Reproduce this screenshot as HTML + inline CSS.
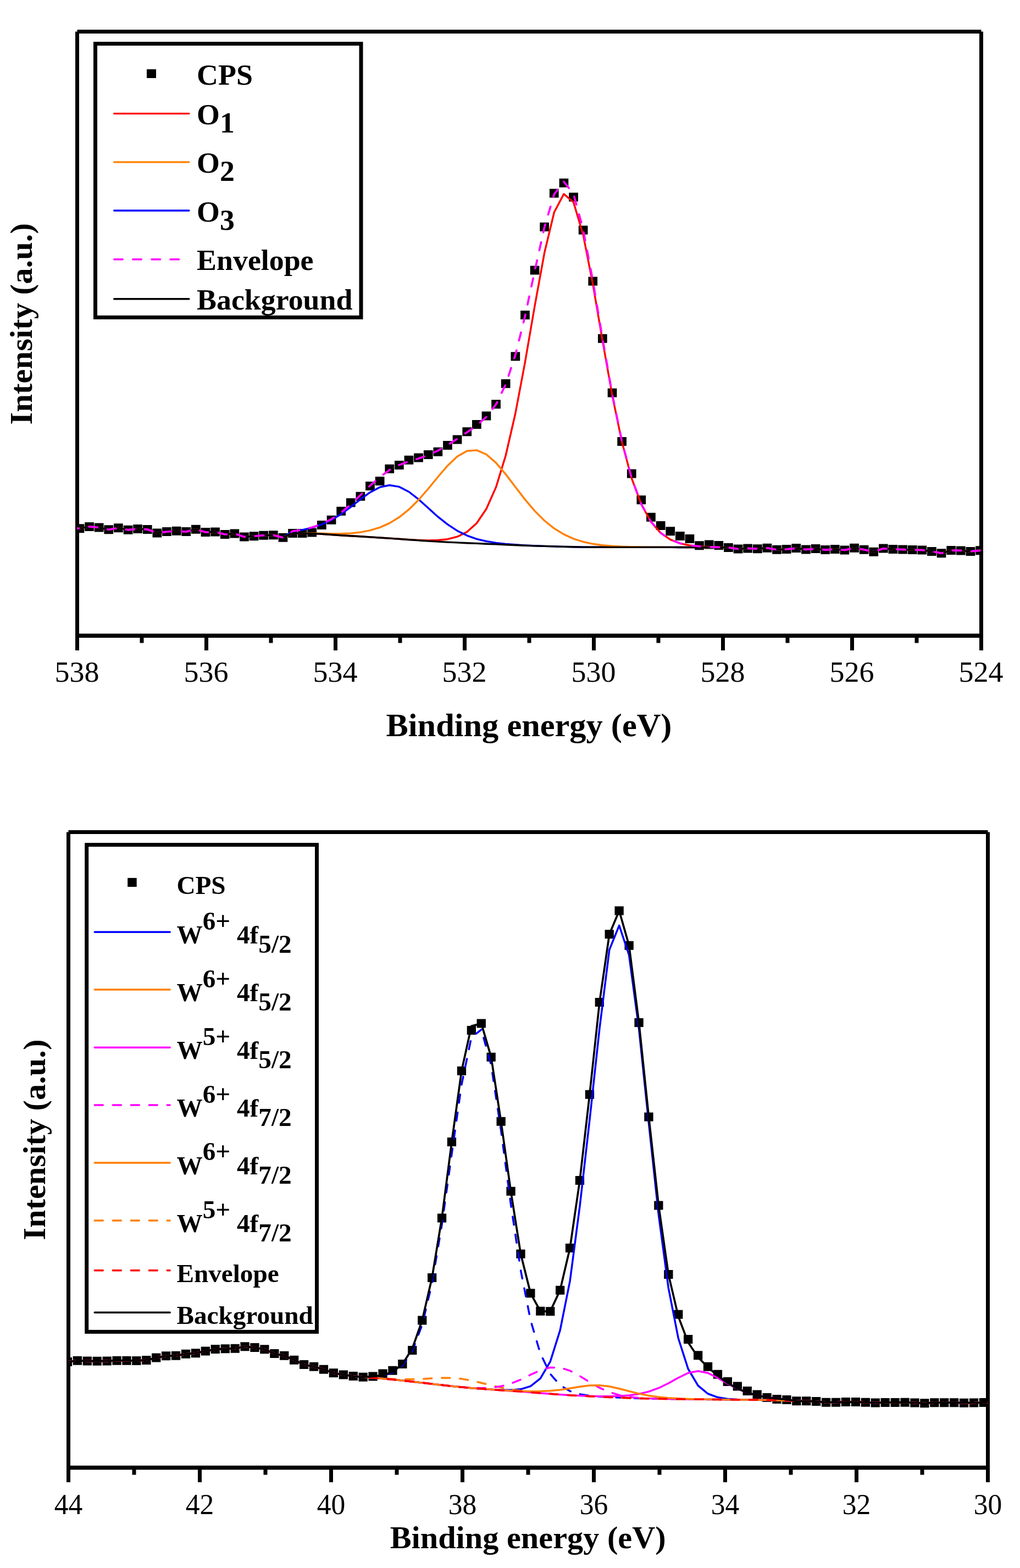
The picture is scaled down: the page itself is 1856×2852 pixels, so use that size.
<!DOCTYPE html>
<html lang="en"><head><meta charset="utf-8"><title>XPS spectra</title>
<style>
html,body{margin:0;padding:0;background:#fff}
svg{display:block;font-family:"Liberation Serif",serif;fill:#000}
</style></head><body>
<svg width="1856" height="2852" viewBox="0 0 1856 2852">
<rect width="1856" height="2852" fill="#fff"/>
<g stroke="#000" fill="none" stroke-width="7">
<path d="M140.5 57.5H1785.5M140.5 57.5V1156M1785.5 57.5V1156"/>
<path d="M137 1156.2H1789" stroke-width="7.5"/>
<path d="M140.5 1156.2V1183M258 1156.2V1169.5M375.5 1156.2V1183M493 1156.2V1169.5M610.5 1156.2V1183M728 1156.2V1169.5M845.5 1156.2V1183M963 1156.2V1169.5M1080.5 1156.2V1183M1198 1156.2V1169.5M1315.5 1156.2V1183M1433 1156.2V1169.5M1550.5 1156.2V1183M1668 1156.2V1169.5M1785.5 1156.2V1183" stroke-width="7"/>
</g>
<text transform="translate(140 1240.3) scale(1.015 1)" font-size="53.2" font-weight="normal" text-anchor="middle">538</text>
<text transform="translate(375 1240.3) scale(1.015 1)" font-size="53.2" font-weight="normal" text-anchor="middle">536</text>
<text transform="translate(610 1240.3) scale(1.015 1)" font-size="53.2" font-weight="normal" text-anchor="middle">534</text>
<text transform="translate(845 1240.3) scale(1.015 1)" font-size="53.2" font-weight="normal" text-anchor="middle">532</text>
<text transform="translate(1080 1240.3) scale(1.015 1)" font-size="53.2" font-weight="normal" text-anchor="middle">530</text>
<text transform="translate(1315 1240.3) scale(1.015 1)" font-size="53.2" font-weight="normal" text-anchor="middle">528</text>
<text transform="translate(1550 1240.3) scale(1.015 1)" font-size="53.2" font-weight="normal" text-anchor="middle">526</text>
<text transform="translate(1785 1240.3) scale(1.015 1)" font-size="53.2" font-weight="normal" text-anchor="middle">524</text>
<clipPath id="c1"><rect x="140" y="57.5" width="1645.5" height="1098.5"/></clipPath>
<g clip-path="url(#c1)">
<path d="M136.6 953.2h16.7v16h-16.7zM154.2 949.9h16.7v16h-16.7zM171.8 951.5h16.7v16h-16.7zM189.4 955.3h16.7v16h-16.7zM207 952.2h16.7v16h-16.7zM224.7 955.8h16.7v16h-16.7zM242.3 953.9h16.7v16h-16.7zM259.9 954.9h16.7v16h-16.7zM277.5 961.5h16.7v16h-16.7zM295.1 959.1h16.7v16h-16.7zM312.8 957.8h16.7v16h-16.7zM330.4 959.1h16.7v16h-16.7zM348 954.7h16.7v16h-16.7zM365.6 959.9h16.7v16h-16.7zM383.2 959.5h16.7v16h-16.7zM400.9 964h16.7v16h-16.7zM418.5 962.6h16.7v16h-16.7zM436.1 968.5h16.7v16h-16.7zM453.7 967.2h16.7v16h-16.7zM471.3 965.7h16.7v16h-16.7zM489 965.3h16.7v16h-16.7zM506.6 969.8h16.7v16h-16.7zM524.2 962h16.7v16h-16.7zM541.8 962h16.7v16h-16.7zM559.4 960.5h16.7v16h-16.7zM577 947.1h16.7v16h-16.7zM594.7 937.8h16.7v16h-16.7zM612.3 921.8h16.7v16h-16.7zM629.9 906.3h16.7v16h-16.7zM647.5 894.7h16.7v16h-16.7zM665.1 876.1h16.7v16h-16.7zM682.8 867h16.7v16h-16.7zM700.4 844.8h16.7v16h-16.7zM718 838.1h16.7v16h-16.7zM735.6 828.8h16.7v16h-16.7zM753.2 824.4h16.7v16h-16.7zM770.9 819h16.7v16h-16.7zM788.5 813.8h16.7v16h-16.7zM806.1 802h16.7v16h-16.7zM823.7 791.4h16.7v16h-16.7zM841.4 777.2h16.7v16h-16.7zM859 764.1h16.7v16h-16.7zM876.6 748.6h16.7v16h-16.7zM894.2 727.2h16.7v16h-16.7zM911.8 689.8h16.7v16h-16.7zM929.5 640.2h16.7v16h-16.7zM947.1 565h16.7v16h-16.7zM964.7 483.6h16.7v16h-16.7zM982.3 404.8h16.7v16h-16.7zM999.9 343.6h16.7v16h-16.7zM1017.6 324.8h16.7v16h-16.7zM1035.2 350.4h16.7v16h-16.7zM1052.8 410.5h16.7v16h-16.7zM1070.4 503.5h16.7v16h-16.7zM1088 607.8h16.7v16h-16.7zM1105.7 706.6h16.7v16h-16.7zM1123.3 795.1h16.7v16h-16.7zM1140.9 853.5h16.7v16h-16.7zM1158.5 901.3h16.7v16h-16.7zM1176.1 932.8h16.7v16h-16.7zM1193.8 947.9h16.7v16h-16.7zM1211.4 958.2h16.7v16h-16.7zM1229 967h16.7v16h-16.7zM1246.6 972.1h16.7v16h-16.7zM1264.2 984.3h16.7v16h-16.7zM1281.9 982.6h16.7v16h-16.7zM1299.5 983.9h16.7v16h-16.7zM1317.1 987.9h16.7v16h-16.7zM1334.7 990.6h16.7v16h-16.7zM1352.3 989.4h16.7v16h-16.7zM1370 990.2h16.7v16h-16.7zM1387.6 988.7h16.7v16h-16.7zM1405.2 991.8h16.7v16h-16.7zM1422.8 991h16.7v16h-16.7zM1440.4 989.1h16.7v16h-16.7zM1458.1 991.5h16.7v16h-16.7zM1475.7 990.1h16.7v16h-16.7zM1493.3 992.1h16.7v16h-16.7zM1510.9 990.9h16.7v16h-16.7zM1528.5 992.5h16.7v16h-16.7zM1546.2 988.7h16.7v16h-16.7zM1563.8 991.7h16.7v16h-16.7zM1581.4 995.7h16.7v16h-16.7zM1599 989.6h16.7v16h-16.7zM1616.6 991h16.7v16h-16.7zM1634.3 991.5h16.7v16h-16.7zM1651.9 992.1h16.7v16h-16.7zM1669.5 992.5h16.7v16h-16.7zM1687.1 994.9h16.7v16h-16.7zM1704.7 998.3h16.7v16h-16.7zM1722.4 993.1h16.7v16h-16.7zM1740 993.4h16.7v16h-16.7zM1757.6 994.9h16.7v16h-16.7zM1775.2 993.2h16.7v16h-16.7z" fill="#000"/>
<polyline points="127.3,961.2 144.9,961.2 162.5,957.9 180.1,959.5 197.8,963.3 215.4,960.2 233,963.8 250.6,961.9 268.2,962.9 285.9,969.5 303.5,967.1 321.1,965.8 338.7,967.1 356.3,962.7 374,967.9 391.6,967.5 409.2,972 426.8,970.6 444.4,976.5 462.1,975.2 479.7,973.7 497.3,973.3 514.9,977.8 532.5,969.7 550.2,970 567.8,970.4 585.4,971.3 603,972.5 620.6,973.7 638.3,974.8 655.9,975.8 673.5,976.9 691.1,978 708.7,979.1 726.4,980.3 744,981.4 761.6,982.4 779.2,982.9 796.8,982.5 814.5,980.7 832.1,976.2 849.7,967.4 867.3,951.7 884.9,925.8 902.6,885.9 920.2,828.5 937.8,752 955.4,658.7 973,556.5 990.7,459.7 1008.3,386.3 1025.9,352.9 1043.5,367.7 1061.1,427 1078.8,517 1096.4,619.7 1114,718.8 1131.6,803.6 1149.2,869.6 1166.9,917.2 1184.5,949.2 1202.1,969.4 1219.7,981.4 1237.3,988.3 1255,992 1272.6,993.9 1290.2,994.8 1307.8,995.3 1325.4,995.9 1343.1,998.6 1360.7,997.4 1378.3,998.2 1395.9,996.7 1413.5,999.8 1431.2,999 1448.8,997.1 1466.4,999.5 1484,998.1 1501.6,1000.1 1519.3,998.9 1536.9,1000.5 1554.5,996.7 1572.1,999.7 1589.7,1003.7 1607.4,997.6 1625,999 1642.6,999.5 1660.2,1000.1 1677.8,1000.5 1695.5,1002.9 1713.1,1006.3 1730.7,1001.1 1748.3,1001.4 1765.9,1002.9 1783.6,1001.2 1801.2,1001.2" fill="none" stroke="#ff0000" stroke-width="3.4" stroke-linejoin="round" stroke-linecap="round"/>
<polyline points="127.3,961.2 144.9,961.2 162.5,957.9 180.1,959.5 197.8,963.3 215.4,960.2 233,963.8 250.6,961.9 268.2,962.9 285.9,969.5 303.5,967.1 321.1,965.8 338.7,967.1 356.3,962.7 374,967.9 391.6,967.5 409.2,972 426.8,970.6 444.4,976.5 462.1,975.2 479.7,973.7 497.3,973.3 514.9,977.8 532.5,966.2 550.2,963.8 567.8,959.7 585.4,954 603,945.9 620.6,935.2 638.3,922.1 655.9,908.2 673.5,895.4 691.1,886.2 708.7,882.5 726.4,885.4 744,894.5 761.6,908.2 779.2,924.1 796.8,939.9 814.5,953.9 832.1,965.4 849.7,974.1 867.3,980.3 884.9,984.5 902.6,987.4 920.2,989.4 937.8,990.8 955.4,991.9 973,992.7 990.7,993.4 1008.3,993.9 1025.9,994.4 1043.5,994.8 1061.1,995.1 1078.8,995.3 1096.4,995.3 1114,995.4 1131.6,995.4 1149.2,995.4 1166.9,995.4 1184.5,995.4 1202.1,995.4 1219.7,995.4 1237.3,995.5 1255,995.5 1272.6,995.5 1290.2,995.5 1307.8,995.6 1325.4,995.9 1343.1,998.6 1360.7,997.4 1378.3,998.2 1395.9,996.7 1413.5,999.8 1431.2,999 1448.8,997.1 1466.4,999.5 1484,998.1 1501.6,1000.1 1519.3,998.9 1536.9,1000.5 1554.5,996.7 1572.1,999.7 1589.7,1003.7 1607.4,997.6 1625,999 1642.6,999.5 1660.2,1000.1 1677.8,1000.5 1695.5,1002.9 1713.1,1006.3 1730.7,1001.1 1748.3,1001.4 1765.9,1002.9 1783.6,1001.2 1801.2,1001.2" fill="none" stroke="#0000ff" stroke-width="3.4" stroke-linejoin="round" stroke-linecap="round"/>
<polyline points="127.3,961.2 144.9,961.2 162.5,957.9 180.1,959.5 197.8,963.3 215.4,960.2 233,963.8 250.6,961.9 268.2,962.9 285.9,969.5 303.5,967.1 321.1,965.8 338.7,967.1 356.3,962.7 374,967.9 391.6,967.5 409.2,972 426.8,970.6 444.4,976.5 462.1,975.2 479.7,973.7 497.3,973.3 514.9,977.8 532.5,969.6 550.2,969.7 567.8,969.9 585.4,970.3 603,970.8 620.6,970.8 638.3,970 655.9,968.1 673.5,964.7 691.1,959.4 708.7,951.6 726.4,940.8 744,926.7 761.6,909.2 779.2,889 796.8,867.5 814.5,846.9 832.1,830.3 849.7,820.3 867.3,818.9 884.9,826.5 902.6,841.9 920.2,862.6 937.8,885.7 955.4,908.6 973,929.4 990.7,947 1008.3,961.1 1025.9,971.9 1043.5,979.9 1061.1,985.5 1078.8,989.3 1096.4,991.7 1114,993.2 1131.6,994.1 1149.2,994.7 1166.9,995 1184.5,995.2 1202.1,995.3 1219.7,995.4 1237.3,995.4 1255,995.5 1272.6,995.5 1290.2,995.5 1307.8,995.6 1325.4,995.9 1343.1,998.6 1360.7,997.4 1378.3,998.2 1395.9,996.7 1413.5,999.8 1431.2,999 1448.8,997.1 1466.4,999.5 1484,998.1 1501.6,1000.1 1519.3,998.9 1536.9,1000.5 1554.5,996.7 1572.1,999.7 1589.7,1003.7 1607.4,997.6 1625,999 1642.6,999.5 1660.2,1000.1 1677.8,1000.5 1695.5,1002.9 1713.1,1006.3 1730.7,1001.1 1748.3,1001.4 1765.9,1002.9 1783.6,1001.2 1801.2,1001.2" fill="none" stroke="#ff8000" stroke-width="3.4" stroke-linejoin="round" stroke-linecap="round"/>
<polyline points="127.3,961.2 144.9,961.2 162.5,957.9 180.1,959.5 197.8,963.3 215.4,960.2 233,963.8 250.6,961.9 268.2,962.9 285.9,969.5 303.5,967.1 321.1,965.8 338.7,967.1 356.3,962.7 374,967.9 391.6,967.5 409.2,972 426.8,970.6 444.4,976.5 462.1,975.2 479.7,973.7 497.3,973.3 514.9,977.8 532.5,969.7 550.2,970 567.8,970.4 585.4,971.3 603,972.5 620.6,973.7 638.3,974.8 655.9,975.8 673.5,976.9 691.1,978 708.7,979.1 726.4,980.4 744,981.7 761.6,982.9 779.2,984.1 796.8,985.1 814.5,986.1 832.1,986.9 849.7,987.7 867.3,988.4 884.9,989.2 902.6,989.9 920.2,990.7 937.8,991.5 955.4,992.2 973,992.9 990.7,993.4 1008.3,993.9 1025.9,994.4 1043.5,994.8 1061.1,995.1 1078.8,995.3 1096.4,995.3 1114,995.4 1131.6,995.4 1149.2,995.4 1166.9,995.4 1184.5,995.4 1202.1,995.4 1219.7,995.4 1237.3,995.5 1255,995.5 1272.6,995.5 1290.2,995.5 1307.8,995.6 1325.4,995.9 1343.1,998.6 1360.7,997.4 1378.3,998.2 1395.9,996.7 1413.5,999.8 1431.2,999 1448.8,997.1 1466.4,999.5 1484,998.1 1501.6,1000.1 1519.3,998.9 1536.9,1000.5 1554.5,996.7 1572.1,999.7 1589.7,1003.7 1607.4,997.6 1625,999 1642.6,999.5 1660.2,1000.1 1677.8,1000.5 1695.5,1002.9 1713.1,1006.3 1730.7,1001.1 1748.3,1001.4 1765.9,1002.9 1783.6,1001.2 1801.2,1001.2" fill="none" stroke="#000" stroke-width="3.4" stroke-linejoin="round" stroke-linecap="round"/>
<polyline points="127.3,961.2 144.9,961.2 162.5,957.9 180.1,959.5 197.8,963.3 215.4,960.2 233,963.8 250.6,961.9 268.2,962.9 285.9,969.5 303.5,967.1 321.1,965.8 338.7,967.1 356.3,962.7 374,967.9 391.6,967.5 409.2,972 426.8,970.6 444.4,976.5 462.1,975.2 479.7,973.7 497.3,973.3 514.9,977.8" fill="none" stroke="#ff00ff" stroke-width="3.7" stroke-linejoin="round" stroke-linecap="round" stroke-dasharray="15.2 19.04" stroke-dashoffset="33.50"/>
<polyline points="514.9,977.8 532.5,966.1 550.2,963.5 567.8,959.2 585.4,953 603,944.3 620.6,932.3 638.3,917.4 655.9,900.5 673.5,883.3 691.1,867.6 708.7,854.9 726.4,845.7 744,839.3 761.6,833.9 779.2,827.8 796.8,819.6 814.5,809.4 832.1,798.1 849.7,786.4 867.3,774 884.9,758.5 902.6,735.4 920.2,699.2 937.8,645.7 955.4,574.8 973,492.9 990.7,413.2 1008.3,353.5 1025.9,330.4 1043.5,352.7 1061.1,417.4 1078.8,511 1096.4,616 1114,716.6 1131.6,802.4 1149.2,869 1166.9,916.8 1184.5,949 1202.1,969.3" fill="none" stroke="#ff00ff" stroke-width="3.7" stroke-linejoin="round" stroke-linecap="round" stroke-dasharray="15 18.6" stroke-dashoffset="15.10"/>
<polyline points="1202.1,969.3 1219.7,981.4 1237.3,988.2 1255,991.9 1272.6,993.8 1290.2,994.8 1307.8,995.3 1325.4,995.9 1343.1,998.6 1360.7,997.4 1378.3,998.2 1395.9,996.7 1413.5,999.8 1431.2,999 1448.8,997.1 1466.4,999.5 1484,998.1 1501.6,1000.1 1519.3,998.9 1536.9,1000.5 1554.5,996.7 1572.1,999.7 1589.7,1003.7 1607.4,997.6 1625,999 1642.6,999.5 1660.2,1000.1 1677.8,1000.5 1695.5,1002.9 1713.1,1006.3 1730.7,1001.1 1748.3,1001.4 1765.9,1002.9 1783.6,1001.2 1801.2,1001.2" fill="none" stroke="#ff00ff" stroke-width="3.7" stroke-linejoin="round" stroke-linecap="round" stroke-dasharray="15.2 19.02" stroke-dashoffset="6.04"/>
</g>
<text transform="translate(962.5 1338.6) scale(1.036 1)" font-size="58.3" font-weight="bold" text-anchor="middle">Binding energy (eV)</text>
<text transform="translate(58.3 589.2) rotate(-90) scale(1.036 1)" font-size="56.6" font-weight="bold" text-anchor="middle">Intensity (a.u.)</text>
<rect x="173.5" y="79.5" width="483.5" height="497.8" fill="#fff" stroke="#000" stroke-width="7"/>
<rect x="267" y="126" width="17" height="16" fill="#000"/>
<text transform="translate(358.1 153.5) scale(1.024 1)" font-size="52.6" font-weight="bold" text-anchor="start">CPS</text>
<line x1="207.7" x2="343.9" y1="206.6" y2="206.6" stroke="#ff0000" stroke-width="3.4" stroke-linecap="round"/>
<text transform="translate(358.1 226.1) scale(1.024 1)" font-size="52.6" font-weight="bold" text-anchor="start">O<tspan dy="15">1</tspan></text>
<line x1="207.7" x2="343.9" y1="294.9" y2="294.9" stroke="#ff8000" stroke-width="3.4" stroke-linecap="round"/>
<text transform="translate(358.1 314.4) scale(1.024 1)" font-size="52.6" font-weight="bold" text-anchor="start">O<tspan dy="15">2</tspan></text>
<line x1="207.7" x2="343.9" y1="383" y2="383" stroke="#0000ff" stroke-width="3.4" stroke-linecap="round"/>
<text transform="translate(358.1 402.5) scale(1.024 1)" font-size="52.6" font-weight="bold" text-anchor="start">O<tspan dy="15">3</tspan></text>
<line x1="207.7" x2="343.9" y1="471.7" y2="471.7" stroke="#ff00ff" stroke-width="3.4" stroke-linecap="round" stroke-dasharray="15.6 18.5"/>
<text transform="translate(358.1 491.2) scale(1.024 1)" font-size="52.6" font-weight="bold" text-anchor="start">Envelope</text>
<line x1="207.7" x2="343.9" y1="543.8" y2="543.8" stroke="#000" stroke-width="3.4" stroke-linecap="round"/>
<text transform="translate(358.1 563.3) scale(1.024 1)" font-size="52.6" font-weight="bold" text-anchor="start">Background</text>
<g stroke="#000" fill="none" stroke-width="7">
<path d="M124.5 1513.5H1797.5M124.5 1513.5V2669.5M1797.5 1513.5V2669.5"/>
<path d="M121 2669.5H1801" stroke-width="7.3"/>
<path d="M124.5 2669.5V2696.1M244 2669.5V2682.6M363.5 2669.5V2696.1M483 2669.5V2682.6M602.5 2669.5V2696.1M722 2669.5V2682.6M841.5 2669.5V2696.1M961 2669.5V2682.6M1080.5 2669.5V2696.1M1200 2669.5V2682.6M1319.5 2669.5V2696.1M1439 2669.5V2682.6M1558.5 2669.5V2696.1M1678 2669.5V2682.6M1797.5 2669.5V2696.1" stroke-width="7"/>
</g>
<text transform="translate(124.5 2754.2) scale(0.98 1)" font-size="52.6" font-weight="normal" text-anchor="middle">44</text>
<text transform="translate(363.5 2754.2) scale(0.98 1)" font-size="52.6" font-weight="normal" text-anchor="middle">42</text>
<text transform="translate(602.5 2754.2) scale(0.98 1)" font-size="52.6" font-weight="normal" text-anchor="middle">40</text>
<text transform="translate(841.5 2754.2) scale(0.98 1)" font-size="52.6" font-weight="normal" text-anchor="middle">38</text>
<text transform="translate(1080.5 2754.2) scale(0.98 1)" font-size="52.6" font-weight="normal" text-anchor="middle">36</text>
<text transform="translate(1319.5 2754.2) scale(0.98 1)" font-size="52.6" font-weight="normal" text-anchor="middle">34</text>
<text transform="translate(1558.5 2754.2) scale(0.98 1)" font-size="52.6" font-weight="normal" text-anchor="middle">32</text>
<text transform="translate(1797.5 2754.2) scale(0.98 1)" font-size="52.6" font-weight="normal" text-anchor="middle">30</text>
<clipPath id="c2"><rect x="124" y="1513.5" width="1673.5" height="1156"/></clipPath>
<g clip-path="url(#c2)">
<path d="M114.8 2468.9h16.3v16h-16.3zM132.7 2466.8h16.3v16h-16.3zM150.6 2467.4h16.3v16h-16.3zM168.5 2467.8h16.3v16h-16.3zM186.5 2467.4h16.3v16h-16.3zM204.4 2466.7h16.3v16h-16.3zM222.3 2466.7h16.3v16h-16.3zM240.2 2467.1h16.3v16h-16.3zM258.2 2465.9h16.3v16h-16.3zM276.1 2461.6h16.3v16h-16.3zM294 2458.2h16.3v16h-16.3zM311.9 2457.8h16.3v16h-16.3zM329.9 2454.8h16.3v16h-16.3zM347.8 2453.2h16.3v16h-16.3zM365.7 2449.6h16.3v16h-16.3zM383.6 2446.1h16.3v16h-16.3zM401.6 2445.3h16.3v16h-16.3zM419.5 2444.7h16.3v16h-16.3zM437.4 2441.2h16.3v16h-16.3zM455.3 2443.1h16.3v16h-16.3zM473.2 2446.2h16.3v16h-16.3zM491.2 2454.1h16.3v16h-16.3zM509.1 2457.8h16.3v16h-16.3zM527 2465.8h16.3v16h-16.3zM545 2474h16.3v16h-16.3zM562.9 2477.7h16.3v16h-16.3zM580.8 2482.7h16.3v16h-16.3zM598.7 2489.3h16.3v16h-16.3zM616.7 2492.4h16.3v16h-16.3zM634.6 2495.1h16.3v16h-16.3zM652.5 2496.8h16.3v16h-16.3zM670.4 2495.5h16.3v16h-16.3zM688.4 2490.5h16.3v16h-16.3zM706.3 2484.7h16.3v16h-16.3zM724.2 2472.9h16.3v16h-16.3zM742.1 2448.1h16.3v16h-16.3zM760.1 2393.6h16.3v16h-16.3zM778 2315.9h16.3v16h-16.3zM795.9 2207.6h16.3v16h-16.3zM813.8 2068.9h16.3v16h-16.3zM831.8 1939.8h16.3v16h-16.3zM849.7 1866h16.3v16h-16.3zM867.6 1853.6h16.3v16h-16.3zM885.5 1914.8h16.3v16h-16.3zM903.5 2031.8h16.3v16h-16.3zM921.4 2158.8h16.3v16h-16.3zM939.3 2272.8h16.3v16h-16.3zM957.2 2344.3h16.3v16h-16.3zM975.2 2376.8h16.3v16h-16.3zM993.1 2377.3h16.3v16h-16.3zM1011 2338.8h16.3v16h-16.3zM1028.9 2262.1h16.3v16h-16.3zM1046.8 2139h16.3v16h-16.3zM1064.8 1982.7h16.3v16h-16.3zM1082.7 1815.1h16.3v16h-16.3zM1100.6 1691.2h16.3v16h-16.3zM1118.5 1648.6h16.3v16h-16.3zM1136.5 1711.8h16.3v16h-16.3zM1154.4 1852h16.3v16h-16.3zM1172.3 2023.5h16.3v16h-16.3zM1190.2 2184.4h16.3v16h-16.3zM1208.2 2310.1h16.3v16h-16.3zM1226.1 2382.7h16.3v16h-16.3zM1244 2428h16.3v16h-16.3zM1262 2457.2h16.3v16h-16.3zM1279.9 2477.8h16.3v16h-16.3zM1297.8 2491.8h16.3v16h-16.3zM1315.7 2504.9h16.3v16h-16.3zM1333.7 2513.5h16.3v16h-16.3zM1351.6 2522h16.3v16h-16.3zM1369.5 2528.4h16.3v16h-16.3zM1387.4 2534.1h16.3v16h-16.3zM1405.4 2536.9h16.3v16h-16.3zM1423.3 2538.1h16.3v16h-16.3zM1441.2 2540.3h16.3v16h-16.3zM1459.1 2540.3h16.3v16h-16.3zM1477 2541.1h16.3v16h-16.3zM1495 2542.7h16.3v16h-16.3zM1512.9 2542.7h16.3v16h-16.3zM1530.8 2542.1h16.3v16h-16.3zM1548.8 2542.1h16.3v16h-16.3zM1566.7 2542.7h16.3v16h-16.3zM1584.6 2543.5h16.3v16h-16.3zM1602.5 2542.9h16.3v16h-16.3zM1620.5 2542.9h16.3v16h-16.3zM1638.4 2542.7h16.3v16h-16.3zM1656.3 2543.5h16.3v16h-16.3zM1674.2 2544.3h16.3v16h-16.3zM1692.2 2543.2h16.3v16h-16.3zM1710.1 2543.2h16.3v16h-16.3zM1728 2543.2h16.3v16h-16.3zM1745.9 2543.7h16.3v16h-16.3zM1763.9 2543.5h16.3v16h-16.3zM1781.8 2542.9h16.3v16h-16.3z" fill="#000"/>
<polyline points="105,2476.9 122.9,2476.9 140.8,2474.8 158.8,2475.4 176.7,2475.8 194.6,2475.4 212.5,2474.7 230.5,2474.7 248.4,2475.1 266.3,2473.9 284.2,2469.6 302.1,2466.2 320.1,2465.8 338,2462.8 355.9,2461.2 373.9,2457.6 391.8,2454.1 409.7,2453.3 427.6,2452.7 445.6,2449.2 463.5,2451.1 481.4,2454.2 499.3,2462.1 517.2,2465.8 535.2,2473.8 553.1,2482 571,2485.7 589,2490.7 606.9,2497.3 624.8,2500.4 642.7,2503.1 660.6,2504.8 678.6,2506 696.5,2507.5 714.4,2509.2 732.4,2511.1 750.3,2513.1 768.2,2515.1 786.1,2517.2 804,2519.3 822,2521.3 839.9,2523.1 857.8,2524.7 875.8,2526.1 893.7,2527.3 911.6,2528.2 929.5,2528.3 947.5,2526.8 965.4,2521.3 983.3,2507.1 1001.2,2476.7 1019.1,2419.8 1037.1,2330 1055,2194 1072.9,2037 1090.9,1871 1108.8,1727.7 1126.7,1683.3 1144.6,1737.3 1162.6,1871.3 1180.5,2043.1 1198.4,2209.4 1216.3,2342.6 1234.3,2434.3 1252.2,2490 1270.1,2520.2 1288,2535 1306,2541.6 1323.9,2544.4 1341.8,2545.5 1359.7,2546 1377.7,2546.3 1395.6,2546.6 1413.5,2546.9 1431.4,2547.4 1449.4,2548.3 1467.3,2548.3 1485.2,2549.1 1503.1,2550.7 1521.1,2550.7 1539,2550.1 1556.9,2550.1 1574.8,2550.7 1592.8,2551.5 1610.7,2550.9 1628.6,2550.9 1646.5,2550.7 1664.5,2551.5 1682.4,2552.3 1700.3,2551.2 1718.2,2551.2 1736.2,2551.2 1754.1,2551.7 1772,2551.5 1789.9,2550.9 1807.9,2550.9" fill="none" stroke="#0000ff" stroke-width="3.5" stroke-linejoin="round" stroke-linecap="round"/>
<polyline points="105,2476.9 122.9,2476.9 140.8,2474.8 158.8,2475.4 176.7,2475.8 194.6,2475.4 212.5,2474.7 230.5,2474.7 248.4,2475.1 266.3,2473.9 284.2,2469.6 302.1,2466.2 320.1,2465.8 338,2462.8 355.9,2461.2 373.9,2457.6 391.8,2454.1 409.7,2453.3 427.6,2452.7 445.6,2449.2 463.5,2451.1 481.4,2454.2 499.3,2462.1 517.2,2465.8 535.2,2473.8 553.1,2482 571,2485.7 589,2490.7 606.9,2497.3 624.8,2500.4 642.7,2503.1 660.6,2504.8 678.6,2503.9 696.5,2502.1 714.4,2496.6 732.4,2483.5 750.3,2457 768.2,2409.7 786.1,2334.1 804,2227.6 822,2098.7 839.9,1972.7 857.8,1886.7 875.8,1872.8" fill="none" stroke="#0000ff" stroke-width="3.5" stroke-linejoin="round" stroke-linecap="round" stroke-dasharray="15 18" stroke-dashoffset="19.00"/>
<polyline points="875.8,1872.8 893.7,1937.1 911.6,2055.7 929.5,2190.4 947.5,2310.5 965.4,2401.4 983.3,2462.1 1001.2,2498.9 1019.1,2519.5 1037.1,2530.3 1055,2535.8 1072.9,2538.6 1090.9,2540.2 1108.8,2541.3 1126.7,2542.1 1144.6,2542.8 1162.6,2543.4 1180.5,2543.9 1198.4,2544.3 1216.3,2544.5 1234.3,2544.8 1252.2,2545 1270.1,2545.2 1288,2545.4 1306,2545.6 1323.9,2545.8 1341.8,2546 1359.7,2546.1 1377.7,2546.3 1395.6,2546.6 1413.5,2546.9 1431.4,2547.4 1449.4,2548.3 1467.3,2548.3 1485.2,2549.1 1503.1,2550.7 1521.1,2550.7 1539,2550.1 1556.9,2550.1 1574.8,2550.7 1592.8,2551.5 1610.7,2550.9 1628.6,2550.9 1646.5,2550.7 1664.5,2551.5 1682.4,2552.3 1700.3,2551.2 1718.2,2551.2 1736.2,2551.2 1754.1,2551.7 1772,2551.5 1789.9,2550.9 1807.9,2550.9" fill="none" stroke="#0000ff" stroke-width="3.5" stroke-linejoin="round" stroke-linecap="round" stroke-dasharray="15 18" stroke-dashoffset="17.63"/>
<polyline points="105,2476.9 122.9,2476.9 140.8,2474.8 158.8,2475.4 176.7,2475.8 194.6,2475.4 212.5,2474.7 230.5,2474.7 248.4,2475.1 266.3,2473.9 284.2,2469.6 302.1,2466.2 320.1,2465.8 338,2462.8 355.9,2461.2 373.9,2457.6 391.8,2454.1 409.7,2453.3 427.6,2452.7 445.6,2449.2 463.5,2451.1 481.4,2454.2 499.3,2462.1 517.2,2465.8 535.2,2473.8 553.1,2482 571,2485.7 589,2490.7 606.9,2497.3 624.8,2500.4 642.7,2503.1 660.6,2504.8 678.6,2505.8 696.5,2507 714.4,2508 732.4,2508.6 750.3,2508.7 768.2,2508.1 786.1,2507 804,2506.2 822,2506.3 839.9,2507.9 857.8,2511.1 875.8,2515.2 893.7,2519.7 911.6,2523.7 929.5,2527.1 947.5,2529.7 965.4,2531.8 983.3,2533.6 1001.2,2535.2 1019.1,2536.6 1037.1,2537.8 1055,2538.8 1072.9,2539.7 1090.9,2540.6 1108.8,2541.4 1126.7,2542.1 1144.6,2542.8 1162.6,2543.4 1180.5,2543.9 1198.4,2544.3 1216.3,2544.5 1234.3,2544.8 1252.2,2545 1270.1,2545.2 1288,2545.4 1306,2545.6 1323.9,2545.8 1341.8,2546 1359.7,2546.1 1377.7,2546.3 1395.6,2546.6 1413.5,2546.9 1431.4,2547.4 1449.4,2548.3 1467.3,2548.3 1485.2,2549.1 1503.1,2550.7 1521.1,2550.7 1539,2550.1 1556.9,2550.1 1574.8,2550.7 1592.8,2551.5 1610.7,2550.9 1628.6,2550.9 1646.5,2550.7 1664.5,2551.5 1682.4,2552.3 1700.3,2551.2 1718.2,2551.2 1736.2,2551.2 1754.1,2551.7 1772,2551.5 1789.9,2550.9 1807.9,2550.9" fill="none" stroke="#ff8000" stroke-width="3.5" stroke-linejoin="round" stroke-linecap="round" stroke-dasharray="15 18" stroke-dashoffset="16.00"/>
<polyline points="105,2476.9 122.9,2476.9 140.8,2474.8 158.8,2475.4 176.7,2475.8 194.6,2475.4 212.5,2474.7 230.5,2474.7 248.4,2475.1 266.3,2473.9 284.2,2469.6 302.1,2466.2 320.1,2465.8 338,2462.8 355.9,2461.2 373.9,2457.6 391.8,2454.1 409.7,2453.3 427.6,2452.7 445.6,2449.2 463.5,2451.1 481.4,2454.2 499.3,2462.1 517.2,2465.8 535.2,2473.8 553.1,2482 571,2485.7 589,2490.7 606.9,2497.3 624.8,2500.4 642.7,2503.1 660.6,2504.8 678.6,2506 696.5,2507.5 714.4,2509.2 732.4,2511.1 750.3,2513.1 768.2,2515.1 786.1,2517.2 804,2519.3 822,2521.2 839.9,2522.9 857.8,2524.2 875.8,2524.7 893.7,2524 911.6,2521.5 929.5,2516.7 947.5,2509.3 965.4,2500.5 983.3,2492.3 1001.2,2487.3 1019.1,2487.5 1037.1,2493.1 1055,2502.8 1072.9,2513.9 1090.9,2524.2 1108.8,2532.1 1126.7,2537.5 1144.6,2540.8 1162.6,2542.6 1180.5,2543.6 1198.4,2544.2 1216.3,2544.5 1234.3,2544.8 1252.2,2545 1270.1,2545.2 1288,2545.4 1306,2545.6 1323.9,2545.8 1341.8,2546 1359.7,2546.1 1377.7,2546.3 1395.6,2546.6 1413.5,2546.9 1431.4,2547.4 1449.4,2548.3 1467.3,2548.3 1485.2,2549.1 1503.1,2550.7 1521.1,2550.7 1539,2550.1 1556.9,2550.1 1574.8,2550.7 1592.8,2551.5 1610.7,2550.9 1628.6,2550.9 1646.5,2550.7 1664.5,2551.5 1682.4,2552.3 1700.3,2551.2 1718.2,2551.2 1736.2,2551.2 1754.1,2551.7 1772,2551.5 1789.9,2550.9 1807.9,2550.9" fill="none" stroke="#ff00ff" stroke-width="3.5" stroke-linejoin="round" stroke-linecap="round" stroke-dasharray="15 18" stroke-dashoffset="16.70"/>
<polyline points="105,2476.9 122.9,2476.9 140.8,2474.8 158.8,2475.4 176.7,2475.8 194.6,2475.4 212.5,2474.7 230.5,2474.7 248.4,2475.1 266.3,2473.9 284.2,2469.6 302.1,2466.2 320.1,2465.8 338,2462.8 355.9,2461.2 373.9,2457.6 391.8,2454.1 409.7,2453.3 427.6,2452.7 445.6,2449.2 463.5,2451.1 481.4,2454.2 499.3,2462.1 517.2,2465.8 535.2,2473.8 553.1,2482 571,2485.7 589,2490.7 606.9,2497.3 624.8,2500.4 642.7,2503.1 660.6,2504.8 678.6,2506 696.5,2507.5 714.4,2509.2 732.4,2511.1 750.3,2513.1 768.2,2515.1 786.1,2517.2 804,2519.3 822,2521.3 839.9,2523.1 857.8,2524.7 875.8,2526.1 893.7,2527.4 911.6,2528.7 929.5,2529.9 947.5,2531.1 965.4,2532.5 983.3,2533.9 1001.2,2535.2 1019.1,2536.5 1037.1,2537.7 1055,2538.6 1072.9,2539.3 1090.9,2539.7 1108.8,2539.8 1126.7,2539.3 1144.6,2538 1162.6,2535.4 1180.5,2531.1 1198.4,2524.7 1216.3,2516 1234.3,2506 1252.2,2497.2 1270.1,2493.7 1288,2497.3 1306,2506.3 1323.9,2516.8 1341.8,2526 1359.7,2533.1 1377.7,2538.2 1395.6,2541.6 1413.5,2544 1431.4,2545.7 1449.4,2548.3 1467.3,2548.3 1485.2,2549.1 1503.1,2550.7 1521.1,2550.7 1539,2550.1 1556.9,2550.1 1574.8,2550.7 1592.8,2551.5 1610.7,2550.9 1628.6,2550.9 1646.5,2550.7 1664.5,2551.5 1682.4,2552.3 1700.3,2551.2 1718.2,2551.2 1736.2,2551.2 1754.1,2551.7 1772,2551.5 1789.9,2550.9 1807.9,2550.9" fill="none" stroke="#ff00ff" stroke-width="3.5" stroke-linejoin="round" stroke-linecap="round"/>
<polyline points="105,2476.9 122.9,2476.9 140.8,2474.8 158.8,2475.4 176.7,2475.8 194.6,2475.4 212.5,2474.7 230.5,2474.7 248.4,2475.1 266.3,2473.9 284.2,2469.6 302.1,2466.2 320.1,2465.8 338,2462.8 355.9,2461.2 373.9,2457.6 391.8,2454.1 409.7,2453.3 427.6,2452.7 445.6,2449.2 463.5,2451.1 481.4,2454.2 499.3,2462.1 517.2,2465.8 535.2,2473.8 553.1,2482 571,2485.7 589,2490.7 606.9,2497.3 624.8,2500.4 642.7,2503.1 660.6,2504.8 678.6,2506 696.5,2507.5 714.4,2509.2 732.4,2511.1 750.3,2513.1 768.2,2515.1 786.1,2517.2 804,2519.3 822,2521.3 839.9,2523.1 857.8,2524.7 875.8,2526.1 893.7,2527.3 911.6,2528.4 929.5,2529.4 947.5,2530.2 965.4,2530.7 983.3,2530.6 1001.2,2529.7 1019.1,2527.9 1037.1,2525.3 1055,2522.3 1072.9,2520 1090.9,2519.7 1108.8,2521.7 1126.7,2525.7 1144.6,2530.4 1162.6,2534.9 1180.5,2538.5 1198.4,2541 1216.3,2542.8 1234.3,2543.8 1252.2,2544.5 1270.1,2544.9 1288,2545.3 1306,2545.6 1323.9,2545.8 1341.8,2546 1359.7,2546.1 1377.7,2546.3 1395.6,2546.6 1413.5,2546.9 1431.4,2547.4 1449.4,2548.3 1467.3,2548.3 1485.2,2549.1 1503.1,2550.7 1521.1,2550.7 1539,2550.1 1556.9,2550.1 1574.8,2550.7 1592.8,2551.5 1610.7,2550.9 1628.6,2550.9 1646.5,2550.7 1664.5,2551.5 1682.4,2552.3 1700.3,2551.2 1718.2,2551.2 1736.2,2551.2 1754.1,2551.7 1772,2551.5 1789.9,2550.9 1807.9,2550.9" fill="none" stroke="#ff8000" stroke-width="3.5" stroke-linejoin="round" stroke-linecap="round"/>
<polyline points="105,2476.9 122.9,2476.9 140.8,2474.8 158.8,2475.4 176.7,2475.8 194.6,2475.4 212.5,2474.7 230.5,2474.7 248.4,2475.1 266.3,2473.9 284.2,2469.6 302.1,2466.2 320.1,2465.8 338,2462.8 355.9,2461.2 373.9,2457.6 391.8,2454.1 409.7,2453.3 427.6,2452.7 445.6,2449.2 463.5,2451.1 481.4,2454.2 499.3,2462.1 517.2,2465.8 535.2,2473.8 553.1,2482 571,2485.7 589,2490.7 606.9,2497.3 624.8,2500.4 642.7,2503.1 660.6,2504.8 678.6,2506 696.5,2507.5 714.4,2509.2 732.4,2511.1 750.3,2513.1 768.2,2515.1 786.1,2517.2 804,2519.3 822,2521.3 839.9,2523.1 857.8,2524.7 875.8,2526.1 893.7,2527.4 911.6,2528.7 929.5,2529.9 947.5,2531.1 965.4,2532.5 983.3,2533.9 1001.2,2535.3 1019.1,2536.6 1037.1,2537.8 1055,2538.8 1072.9,2539.7 1090.9,2540.6 1108.8,2541.4 1126.7,2542.1 1144.6,2542.8 1162.6,2543.4 1180.5,2543.9 1198.4,2544.3 1216.3,2544.5 1234.3,2544.8 1252.2,2545 1270.1,2545.2 1288,2545.4 1306,2545.6 1323.9,2545.8 1341.8,2546 1359.7,2546.1 1377.7,2546.3 1395.6,2546.6 1413.5,2546.9 1431.4,2547.4 1449.4,2548.3 1467.3,2548.3 1485.2,2549.1 1503.1,2550.7 1521.1,2550.7 1539,2550.1 1556.9,2550.1 1574.8,2550.7 1592.8,2551.5 1610.7,2550.9 1628.6,2550.9 1646.5,2550.7 1664.5,2551.5 1682.4,2552.3 1700.3,2551.2 1718.2,2551.2 1736.2,2551.2 1754.1,2551.7 1772,2551.5 1789.9,2550.9 1807.9,2550.9" fill="none" stroke="#ff0000" stroke-width="3.5" stroke-linejoin="round" stroke-linecap="round" stroke-dasharray="15 18" stroke-dashoffset="16.00"/>
<polyline points="105,2476.9 122.9,2476.9 140.8,2474.8 158.8,2475.4 176.7,2475.8 194.6,2475.4 212.5,2474.7 230.5,2474.7 248.4,2475.1 266.3,2473.9 284.2,2469.6 302.1,2466.2 320.1,2465.8 338,2462.8 355.9,2461.2 373.9,2457.6 391.8,2454.1 409.7,2453.3 427.6,2452.7 445.6,2449.2 463.5,2451.1 481.4,2454.2 499.3,2462.1 517.2,2465.8 535.2,2473.8 553.1,2482 571,2485.7 589,2490.7 606.9,2497.3 624.8,2500.4 642.7,2503.1 660.6,2504.8 678.6,2503.7 696.5,2501.6 714.4,2495.3 732.4,2481 750.3,2452.7 768.2,2401.6 786.1,2323.9 804,2215.6 822,2076.9 839.9,1947.8 857.8,1866.4 875.8,1861.6 893.7,1922.8 911.6,2039.8 929.5,2166.8 947.5,2280.8 965.4,2352.3 983.3,2384.8 1001.2,2385.3 1019.1,2346.8 1037.1,2270.1 1055,2147 1072.9,1990.7 1090.9,1823.1 1108.8,1699.2 1126.7,1656.6 1144.6,1719.8 1162.6,1860 1180.5,2031.5 1198.4,2192.4 1216.3,2318.1 1234.3,2394.6 1252.2,2441.8 1270.1,2468.5 1288,2486.8 1306,2502.3 1323.9,2515.4 1341.8,2525.6 1359.7,2533 1377.7,2538.1 1395.6,2541.6 1413.5,2544 1431.4,2545.7 1449.4,2548.3 1467.3,2548.3 1485.2,2549.1 1503.1,2550.7 1521.1,2550.7 1539,2550.1 1556.9,2550.1 1574.8,2550.7 1592.8,2551.5 1610.7,2550.9 1628.6,2550.9 1646.5,2550.7 1664.5,2551.5 1682.4,2552.3 1700.3,2551.2 1718.2,2551.2 1736.2,2551.2 1754.1,2551.7 1772,2551.5 1789.9,2550.9 1807.9,2550.9" fill="none" stroke="#000" stroke-width="3.7" stroke-linejoin="round" stroke-linecap="round"/>
</g>
<text transform="translate(960.7 2816) scale(1.036 1)" font-size="56.3" font-weight="bold" text-anchor="middle">Binding energy (eV)</text>
<text transform="translate(82.1 2073.2) rotate(-90) scale(1.036 1)" font-size="56.4" font-weight="bold" text-anchor="middle">Intensity (a.u.)</text>
<rect x="157.7" y="1536.6" width="418.8" height="885.8" fill="#fff" stroke="#000" stroke-width="7"/>
<rect x="232.2" y="1596.9" width="16.5" height="16.2" fill="#000"/>
<text transform="translate(321.4 1625.5) scale(1.016 1)" font-size="46.5" font-weight="bold" text-anchor="start">CPS</text>
<line x1="172.3" x2="309.1" y1="1695.2" y2="1695.2" stroke="#0000ff" stroke-width="3.5" stroke-linecap="round"/>
<text transform="translate(321.4 1715.8) scale(1.016 1)" font-size="46.5" font-weight="bold" text-anchor="start" xml:space="preserve">W<tspan dy="-25.2">6+</tspan><tspan dy="25.2"> 4f</tspan><tspan dy="17.2">5/2</tspan></text>
<line x1="172.3" x2="309.1" y1="1800.1" y2="1800.1" stroke="#ff8000" stroke-width="3.5" stroke-linecap="round"/>
<text transform="translate(321.4 1820.7) scale(1.016 1)" font-size="46.5" font-weight="bold" text-anchor="start" xml:space="preserve">W<tspan dy="-25.2">6+</tspan><tspan dy="25.2"> 4f</tspan><tspan dy="17.2">5/2</tspan></text>
<line x1="172.3" x2="309.1" y1="1905.2" y2="1905.2" stroke="#ff00ff" stroke-width="3.5" stroke-linecap="round"/>
<text transform="translate(321.4 1925.8) scale(1.016 1)" font-size="46.5" font-weight="bold" text-anchor="start" xml:space="preserve">W<tspan dy="-25.2">5+</tspan><tspan dy="25.2"> 4f</tspan><tspan dy="17.2">5/2</tspan></text>
<line x1="172.3" x2="309.1" y1="2010.1" y2="2010.1" stroke="#ff00ff" stroke-width="3.5" stroke-linecap="round" stroke-dasharray="15 18"/>
<text transform="translate(321.4 2030.7) scale(1.016 1)" font-size="46.5" font-weight="bold" text-anchor="start" xml:space="preserve">W<tspan dy="-25.2">6+</tspan><tspan dy="25.2"> 4f</tspan><tspan dy="17.2">7/2</tspan></text>
<line x1="172.3" x2="309.1" y1="2114.9" y2="2114.9" stroke="#ff8000" stroke-width="3.5" stroke-linecap="round"/>
<text transform="translate(321.4 2135.5) scale(1.016 1)" font-size="46.5" font-weight="bold" text-anchor="start" xml:space="preserve">W<tspan dy="-25.2">6+</tspan><tspan dy="25.2"> 4f</tspan><tspan dy="17.2">7/2</tspan></text>
<line x1="172.3" x2="309.1" y1="2220.1" y2="2220.1" stroke="#ff8000" stroke-width="3.5" stroke-linecap="round" stroke-dasharray="15 18"/>
<text transform="translate(321.4 2240.7) scale(1.016 1)" font-size="46.5" font-weight="bold" text-anchor="start" xml:space="preserve">W<tspan dy="-25.2">5+</tspan><tspan dy="25.2"> 4f</tspan><tspan dy="17.2">7/2</tspan></text>
<line x1="172.3" x2="309.1" y1="2310.7" y2="2310.7" stroke="#ff0000" stroke-width="3.5" stroke-linecap="round" stroke-dasharray="15 18"/>
<text transform="translate(321.4 2332.1) scale(1.016 1)" font-size="46.5" font-weight="bold" text-anchor="start">Envelope</text>
<line x1="172.3" x2="309.1" y1="2387.3" y2="2387.3" stroke="#000" stroke-width="3.5" stroke-linecap="round"/>
<text transform="translate(321.4 2407.9) scale(1.016 1)" font-size="46.5" font-weight="bold" text-anchor="start">Background</text>
</svg>
</body></html>
